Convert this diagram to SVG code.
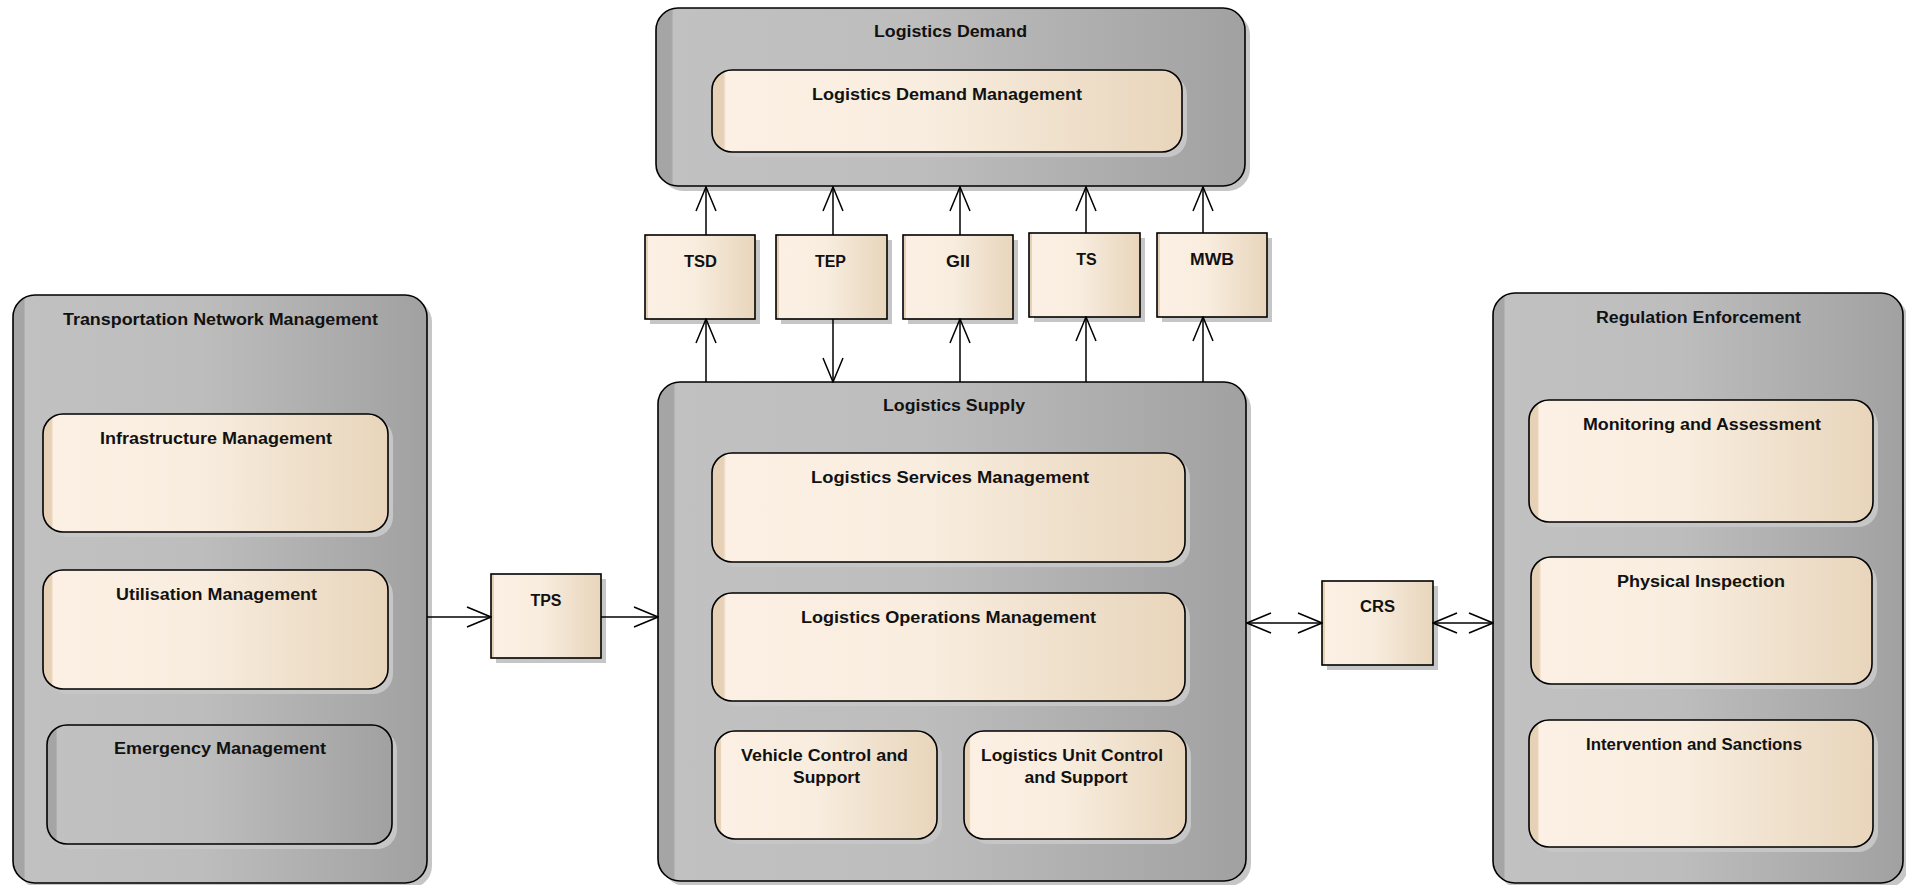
<svg xmlns="http://www.w3.org/2000/svg" width="1906" height="885" viewBox="0 0 1906 885">
<defs>
<linearGradient id="grayG" x1="0" y1="0" x2="1" y2="0">
<stop offset="0" stop-color="#a5a5a5"/><stop offset="0.026" stop-color="#a5a5a5"/><stop offset="0.03" stop-color="#c1c1c1"/><stop offset="0.45" stop-color="#bdbdbd"/><stop offset="1" stop-color="#a1a1a1"/>
</linearGradient>
<linearGradient id="beigeG" x1="0" y1="0" x2="1" y2="0">
<stop offset="0" stop-color="#e6d1b6"/><stop offset="0.024" stop-color="#e6d1b6"/><stop offset="0.03" stop-color="#fbf0e3"/><stop offset="0.45" stop-color="#f8eddf"/><stop offset="1" stop-color="#e8d5bb"/>
</linearGradient>
<marker id="arr" markerUnits="userSpaceOnUse" viewBox="0 0 26 22" refX="25" refY="11" markerWidth="26" markerHeight="22" orient="auto-start-reverse">
<path d="M1,1 L25,11 L1,21" fill="none" stroke="#000" stroke-width="1.5"/>
</marker>
<style>
.sh{fill:#c6c6c6}
.ct{fill:url(#grayG);stroke:#000;stroke-width:1.6}
.bx{fill:url(#beigeG);stroke:#000;stroke-width:1.6}
.gx{fill:url(#grayG);stroke:#000;stroke-width:1.6}
text{font-family:"Liberation Sans",Arial,sans-serif;font-weight:bold;font-size:16px;fill:#111;text-anchor:middle}
.cn{stroke:#000;stroke-width:1.5;fill:none;marker-end:url(#arr)}
.cn2{stroke:#000;stroke-width:1.5;fill:none;marker-end:url(#arr);marker-start:url(#arr)}
</style>
</defs>

<g id="logistics-demand">
<rect class="sh" x="661" y="13" width="589" height="178" rx="22"/>
<rect class="ct" x="656" y="8" width="589" height="178" rx="22"/>
<text x="950.5" y="37" textLength="153" lengthAdjust="spacingAndGlyphs">Logistics Demand</text>
</g>
<g id="logistics-demand-management">
<rect class="sh" x="717" y="75" width="470" height="82" rx="20"/>
<rect class="bx" x="712" y="70" width="470" height="82" rx="20"/>
<text x="947" y="100" textLength="270" lengthAdjust="spacingAndGlyphs">Logistics Demand Management</text>
</g>

<g id="transportation-network-management">
<rect class="sh" x="18" y="300" width="414" height="588" rx="22"/>
<rect class="ct" x="13" y="295" width="414" height="588" rx="22"/>
<text x="220.5" y="325" textLength="315" lengthAdjust="spacingAndGlyphs">Transportation Network Management</text>
</g>
<g id="infrastructure-management">
<rect class="sh" x="48" y="419" width="345" height="118" rx="20"/>
<rect class="bx" x="43" y="414" width="345" height="118" rx="20"/>
<text x="216" y="444" textLength="232" lengthAdjust="spacingAndGlyphs">Infrastructure Management</text>
</g>
<g id="utilisation-management">
<rect class="sh" x="48" y="575" width="345" height="119" rx="20"/>
<rect class="bx" x="43" y="570" width="345" height="119" rx="20"/>
<text x="216.5" y="600" textLength="201" lengthAdjust="spacingAndGlyphs">Utilisation Management</text>
</g>
<g id="emergency-management">
<rect class="sh" x="52" y="730" width="345" height="119" rx="20"/>
<rect class="gx" x="47" y="725" width="345" height="119" rx="20"/>
<text x="220" y="754" textLength="212" lengthAdjust="spacingAndGlyphs">Emergency Management</text>
</g>

<g id="logistics-supply">
<rect class="sh" x="663" y="387" width="588" height="499" rx="22"/>
<rect class="ct" x="658" y="382" width="588" height="499" rx="22"/>
<text x="954" y="411" textLength="142" lengthAdjust="spacingAndGlyphs">Logistics Supply</text>
</g>
<g id="logistics-services-management">
<rect class="sh" x="717" y="458" width="473" height="109" rx="20"/>
<rect class="bx" x="712" y="453" width="473" height="109" rx="20"/>
<text x="950" y="483" textLength="278" lengthAdjust="spacingAndGlyphs">Logistics Services Management</text>
</g>
<g id="logistics-operations-management">
<rect class="sh" x="717" y="598" width="473" height="108" rx="20"/>
<rect class="bx" x="712" y="593" width="473" height="108" rx="20"/>
<text x="948.5" y="623" textLength="295" lengthAdjust="spacingAndGlyphs">Logistics Operations Management</text>
</g>
<g id="vehicle-control-and-support">
<rect class="sh" x="720" y="736" width="222" height="108" rx="20"/>
<rect class="bx" x="715" y="731" width="222" height="108" rx="20"/>
<text x="824.5" y="761" textLength="167" lengthAdjust="spacingAndGlyphs">Vehicle Control and</text>
<text x="826.5" y="783" textLength="67" lengthAdjust="spacingAndGlyphs">Support</text>
</g>
<g id="logistics-unit-control-and-support">
<rect class="sh" x="969" y="736" width="222" height="108" rx="20"/>
<rect class="bx" x="964" y="731" width="222" height="108" rx="20"/>
<text x="1072" y="761" textLength="182" lengthAdjust="spacingAndGlyphs">Logistics Unit Control</text>
<text x="1076" y="783" textLength="103" lengthAdjust="spacingAndGlyphs">and Support</text>
</g>

<g id="regulation-enforcement">
<rect class="sh" x="1498" y="298" width="410" height="590" rx="22"/>
<rect class="ct" x="1493" y="293" width="410" height="590" rx="22"/>
<text x="1698.5" y="323" textLength="205" lengthAdjust="spacingAndGlyphs">Regulation Enforcement</text>
</g>
<g id="monitoring-and-assessment">
<rect class="sh" x="1534" y="405" width="344" height="122" rx="20"/>
<rect class="bx" x="1529" y="400" width="344" height="122" rx="20"/>
<text x="1702" y="430" textLength="238" lengthAdjust="spacingAndGlyphs">Monitoring and Assessment</text>
</g>
<g id="physical-inspection">
<rect class="sh" x="1536" y="562" width="341" height="127" rx="20"/>
<rect class="bx" x="1531" y="557" width="341" height="127" rx="20"/>
<text x="1701" y="587" textLength="168" lengthAdjust="spacingAndGlyphs">Physical Inspection</text>
</g>
<g id="intervention-and-sanctions">
<rect class="sh" x="1534" y="725" width="344" height="127" rx="20"/>
<rect class="bx" x="1529" y="720" width="344" height="127" rx="20"/>
<text x="1694" y="750" textLength="216" lengthAdjust="spacingAndGlyphs">Intervention and Sanctions</text>
</g>

<g id="TSD">
<rect class="sh" x="650" y="240" width="110" height="84"/>
<rect class="bx" x="645" y="235" width="110" height="84"/>
<text x="700.5" y="267" textLength="33" lengthAdjust="spacingAndGlyphs">TSD</text>
</g>
<g id="TEP">
<rect class="sh" x="781" y="240" width="111" height="84"/>
<rect class="bx" x="776" y="235" width="111" height="84"/>
<text x="830.5" y="267" textLength="31" lengthAdjust="spacingAndGlyphs">TEP</text>
</g>
<g id="GII">
<rect class="sh" x="908" y="240" width="110" height="84"/>
<rect class="bx" x="903" y="235" width="110" height="84"/>
<text x="958" y="267" textLength="24" lengthAdjust="spacingAndGlyphs">GII</text>
</g>
<g id="TS">
<rect class="sh" x="1034" y="238" width="111" height="84"/>
<rect class="bx" x="1029" y="233" width="111" height="84"/>
<text x="1086.5" y="265">TS</text>
</g>
<g id="MWB">
<rect class="sh" x="1162" y="238" width="110" height="84"/>
<rect class="bx" x="1157" y="233" width="110" height="84"/>
<text x="1212" y="265" textLength="44" lengthAdjust="spacingAndGlyphs">MWB</text>
</g>
<g id="TPS">
<rect class="sh" x="496" y="579" width="110" height="84"/>
<rect class="bx" x="491" y="574" width="110" height="84"/>
<text x="546" y="606" textLength="31" lengthAdjust="spacingAndGlyphs">TPS</text>
</g>
<g id="CRS">
<rect class="sh" x="1327" y="586" width="111" height="84"/>
<rect class="bx" x="1322" y="581" width="111" height="84"/>
<text x="1377.5" y="612" textLength="35" lengthAdjust="spacingAndGlyphs">CRS</text>
</g>

<g id="connectors">
<path class="cn" d="M706,235 L706,187"/>
<path class="cn" d="M706,382 L706,319"/>
<path class="cn" d="M833,235 L833,187"/>
<path class="cn" d="M833,319 L833,382"/>
<path class="cn" d="M960,235 L960,187"/>
<path class="cn" d="M960,382 L960,319"/>
<path class="cn" d="M1086,233 L1086,187"/>
<path class="cn" d="M1086,382 L1086,317"/>
<path class="cn" d="M1203,233 L1203,187"/>
<path class="cn" d="M1203,382 L1203,317"/>
<path class="cn" d="M427,617 L491,617"/>
<path class="cn" d="M601,617 L658,617"/>
<path class="cn2" d="M1247,623 L1322,623"/>
<path class="cn2" d="M1433,623 L1493,623"/>
</g>
</svg>
